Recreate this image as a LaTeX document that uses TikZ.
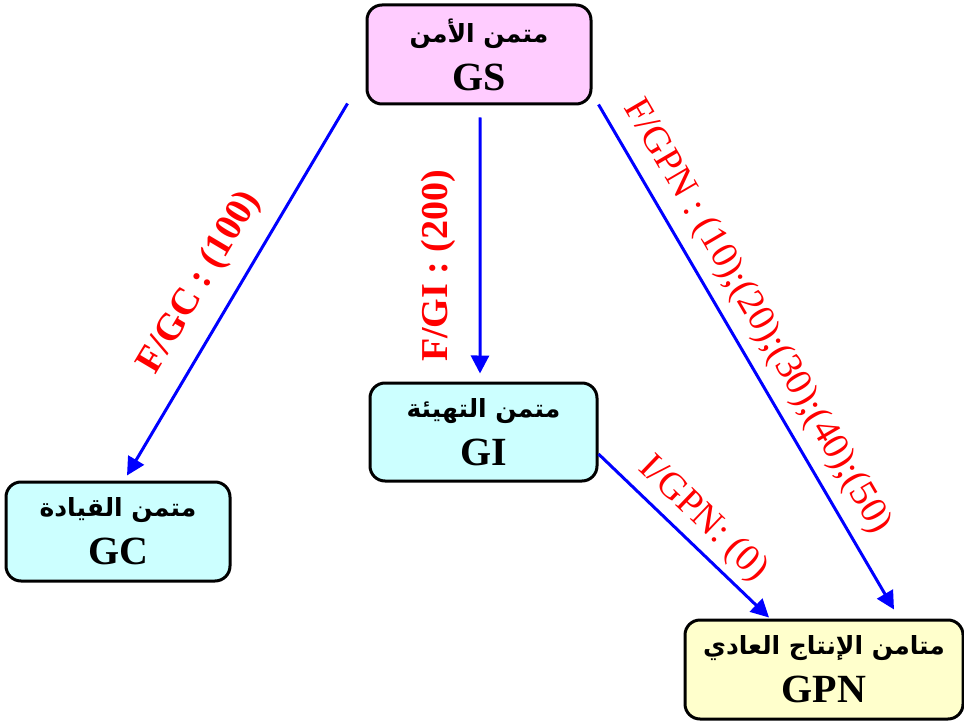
\documentclass[tikz,border=0pt]{standalone}
\usepackage{fontspec}
\setmainfont{Liberation Serif}
\newfontfamily\arabicfont[Script=Arabic]{DejaVu Sans}
\TeXXeTstate=1
\usetikzlibrary{arrows.meta,positioning}

\definecolor{gspink}{RGB}{255,204,255}
\definecolor{gicyan}{RGB}{204,255,255}
\definecolor{gpnyellow}{RGB}{255,255,204}

\newcommand{\artext}[1]{{\arabicfont\fontsize{12.5}{24}\selectfont\beginR #1\endR}}

\begin{document}
\begin{tikzpicture}[
    box/.style={
        draw,
        line width=1.5pt,
        rounded corners=7.5pt,
        minimum width=112pt,
        minimum height=49.5pt,
        inner sep=2pt,
        align=center,
        font=\bfseries\fontsize{20}{24}\selectfont
    },
    flow/.style={blue, line width=1.5pt, -{Triangle[length=9pt,width=9pt]}},
    lbl/.style={text=red, sloped, font=\fontsize{19}{22}\selectfont},
    lblbold/.style={lbl, font=\bfseries\fontsize{19}{22}\selectfont}
]
    \useasboundingbox (0,0) rectangle (482pt,-361pt);

    \node[box, fill=gspink] (gs) at (239.5pt,-27.25pt)
        {\artext{متمن الأمن}\\GS};
    \node[box, fill=gicyan, minimum width=113.5pt, minimum height=49pt,
        below=138pt of gs, xshift=2.25pt] (gi)
        {\artext{متمن التهيئة}\\GI};
    \node[box, fill=gicyan, below left=-1pt and 68.5pt of gi] (gc)
        {\artext{متمن القيادة}\\GC};
    \node[box, fill=gpnyellow, minimum width=139pt, below right=68pt and 42.5pt of gi] (gpn)
        {\artext{متامن الإنتاج العادي}\\GPN};

    \draw[flow] ([xshift=-9pt,yshift=1pt]gs.south west)
        -- node[lblbold, above=5pt, pos=0.53] {F/GC : (100)} ([xshift=4.5pt,yshift=2.5pt]gc.north);
    \draw[flow] ([xshift=0.6pt,yshift=-6pt]gs.south)
        -- node[lblbold, above=8pt, pos=0.58] {F/GI : (200)} ([xshift=-1.75pt,yshift=4pt]gi.north);
    \draw[flow] ([xshift=3pt,yshift=0.5pt]gs.south east)
        -- node[lbl, above=2pt, pos=0.45] {F/GPN : (10);(20);(30);(40);(50)} ([xshift=35pt,yshift=4.5pt]gpn.north);
    \draw[flow] ([yshift=-11pt]gi.east)
        -- node[lbl, above=0pt, pos=0.51] {I/GPN: (0)} ([xshift=-27.5pt,yshift=0.5pt]gpn.north);
\end{tikzpicture}
\end{document}
